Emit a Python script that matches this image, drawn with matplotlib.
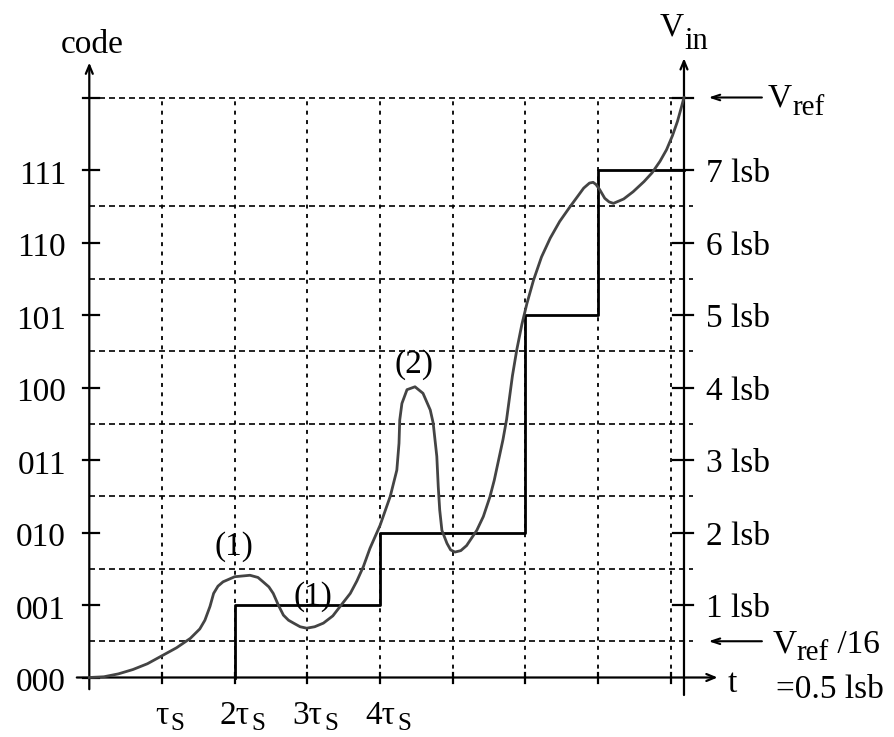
import matplotlib
matplotlib.use("Agg")
import matplotlib.pyplot as plt

plt.rcParams['font.family'] = ['Liberation Serif', 'DejaVu Serif']

# ---------------- data ----------------
code_labels = ["000", "001", "010", "011", "100", "101", "110", "111"]
lsb_labels = ["1 lsb", "2 lsb", "3 lsb", "4 lsb", "5 lsb", "6 lsb", "7 lsb"]
time_ticks = [1, 2, 3, 4]
time_labels = ["τ", "2τ", "3τ", "4τ"]
time_sub = "S"

# staircase (output code, in lsb) vs time (in tau_s)
stair_t = [2, 2, 4, 4, 6, 6, 7, 7, 8.18]
stair_v = [0, 1, 1, 2, 2, 5, 5, 7, 7]

# analog input Vin (in lsb) vs time (in tau_s)
vin_t = [0, 0.2, 0.4, 0.6, 0.8, 1.0, 1.2, 1.39, 1.52, 1.59, 1.66, 1.71, 1.77, 1.84,
         2.0, 2.21, 2.32, 2.39, 2.47, 2.53, 2.60, 2.67, 2.74, 2.81, 2.9, 2.99,
         3.1, 3.22, 3.35, 3.45, 3.59, 3.68, 3.77, 3.86, 4.0, 4.14, 4.23, 4.26, 4.27,
         4.30, 4.37, 4.48, 4.59, 4.69, 4.73, 4.78, 4.80, 4.82, 4.85, 4.92, 4.97, 5.03,
         5.11, 5.19, 5.33, 5.42, 5.51, 5.57, 5.63, 5.69, 5.74, 5.78, 5.82, 5.88, 5.95,
         6.02, 6.11, 6.22, 6.34, 6.47, 6.61, 6.72, 6.80, 6.88, 6.93, 6.97, 7.02, 7.09,
         7.15, 7.21, 7.35, 7.48, 7.63, 7.74, 7.85, 7.94, 8.02, 8.09, 8.14, 8.18]
vin_v = [0, 0.01, 0.05, 0.11, 0.19, 0.30, 0.41, 0.54, 0.67, 0.79, 0.98, 1.16, 1.26, 1.32,
         1.39, 1.41, 1.38, 1.32, 1.25, 1.16, 1.0, 0.86, 0.79, 0.75, 0.70, 0.68,
         0.70, 0.75, 0.85, 0.98, 1.16, 1.33, 1.53, 1.78, 2.1, 2.5, 2.86, 3.23, 3.55,
         3.78, 3.97, 4.01, 3.92, 3.69, 3.51, 3.05, 2.63, 2.31, 2.03, 1.85, 1.76, 1.73,
         1.75, 1.82, 2.03, 2.22, 2.49, 2.72, 3.0, 3.28, 3.56, 3.86, 4.16, 4.52, 4.87,
         5.16, 5.48, 5.80, 6.06, 6.29, 6.49, 6.64, 6.75, 6.82, 6.83, 6.80, 6.73, 6.61,
         6.56, 6.54, 6.60, 6.70, 6.84, 6.96, 7.12, 7.28, 7.47, 7.67, 7.85, 8.0]

notes = ["(1)", "(1)", "(2)"]
note_t = [1.99, 3.07, 4.47]
note_v = [1.80, 1.11, 4.32]

# ---------------- layout ----------------
W, H = 895, 737
x0px, y0px = 89.3, 677.5
sx, sy = 72.7, 72.5
fig = plt.figure(figsize=(W / 100, H / 100), dpi=100)
ax = fig.add_axes([0, 0, 1, 1])
ax.set_xlim(-x0px / sx, (W - x0px) / sx)
ax.set_ylim((y0px - H) / sy, y0px / sy)
ax.axis('off')
renderer = fig.canvas.get_renderer()

t_right = 8.18
FS = 24


def sub_text(x, y, base, sub, fs, subfs, drop, gap=1.0, center_base=False, tail=None):
    t = ax.text(x, y, base, ha='center' if center_base else 'left', va='baseline', fontsize=fs)
    bb = t.get_window_extent(renderer)
    xd, _ = ax.transData.transform((x, y))
    off = bb.x1 - xd + gap
    s = ax.annotate(sub, xy=(x, y), xycoords='data', xytext=(off, -drop),
                    textcoords='offset pixels', ha='left', va='baseline', fontsize=subfs)
    if tail is not None:
        sb = s.get_window_extent(renderer)
        ax.annotate(tail, xy=(x, y), xycoords='data', xytext=(sb.x1 - xd, 0),
                    textcoords='offset pixels', ha='left', va='baseline', fontsize=fs)


# grid: horizontal dashed
for yv in [0.5, 1.5, 2.5, 3.5, 4.5, 5.5, 6.5, 8]:
    ax.plot([0, 8.30], [yv, yv], color='black', lw=1.2, dashes=(3.6, 2.4), zorder=1)
# grid: vertical dotted
for xv in range(1, 9):
    ax.plot([xv, xv], [0, 8], color='black', lw=1.3, dashes=(2.2, 3.0), zorder=1)

# axes
arw = dict(arrowstyle='->,head_length=0.6,head_width=0.25', lw=1.6, color='black')
ax.annotate('', xy=(0, 8.52), xytext=(0, -0.2), arrowprops=arw)
ax.annotate('', xy=(t_right, 8.58), xytext=(t_right, -0.28), arrowprops=arw)
ax.annotate('', xy=(8.68, 0), xytext=(-0.21, 0), arrowprops=arw)

# ticks
for yv in range(0, 9):
    ax.plot([-0.09, 0.13], [yv, yv], color='black', lw=1.6)
for yv in range(1, 9):
    ax.plot([8.03, 8.30], [yv, yv], color='black', lw=1.6)
for xv in range(1, 9):
    ax.plot([xv, xv], [-0.08, 0.06], color='black', lw=1.6)

# tick labels
for i, lab in enumerate(code_labels):
    ax.text(-0.32, i - 0.19, lab, ha='right', va='baseline', fontsize=FS)
for i, lab in enumerate(lsb_labels):
    ax.text(8.48, i + 1 - 0.17, lab, ha='left', va='baseline', fontsize=FS)
for xv, lab in zip(time_ticks, time_labels):
    sub_text(xv, -0.645, lab, time_sub, FS, 18, 6, gap=2, center_base=True)

# axis titles
ax.text(0.04, 8.61, 'code', ha='center', va='baseline', fontsize=FS)
sub_text(7.85, 8.86, 'V', 'in', FS, 22, 14, gap=0)
ax.text(8.78, -0.196, 't', ha='left', va='baseline', fontsize=FS)

# reference arrows
arw2 = dict(arrowstyle='->,head_length=0.6,head_width=0.2', lw=1.5, color='black')
ax.annotate('', xy=(8.48, 8), xytext=(9.29, 8), arrowprops=arw2)
ax.annotate('', xy=(8.48, 0.5), xytext=(9.29, 0.5), arrowprops=arw2)
sub_text(9.335, 7.87, 'V', 'ref', FS, 21, 8, gap=0)
sub_text(9.40, 0.34, 'V', 'ref', FS, 21, 7, gap=0, tail=' /16')
ax.text(9.45, -0.28, '=0.5 lsb', ha='left', va='baseline', fontsize=FS)

# staircase
ax.plot(stair_t, stair_v, color='black', lw=2.0, zorder=3)

# Vin curve
ax.plot(vin_t, vin_v, color='#444444', lw=2.0, zorder=4, solid_joinstyle='round')

# notes
for s, tx, vy in zip(notes, note_t, note_v):
    ax.text(tx, vy, s, ha='center', va='center', fontsize=FS, zorder=2)

fig.savefig('out.png', dpi=100)
